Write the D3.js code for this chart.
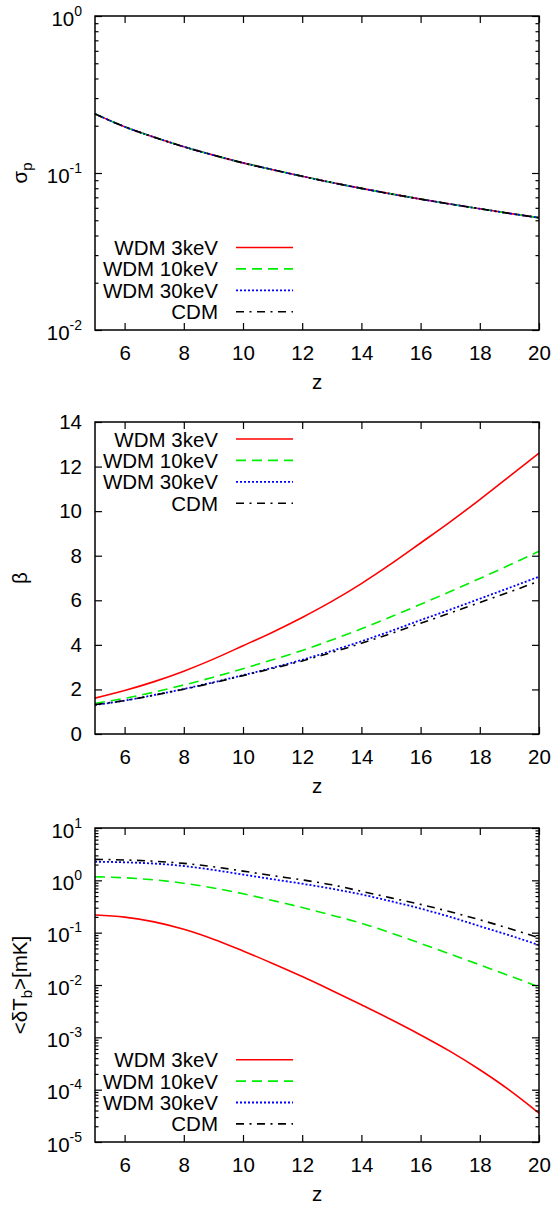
<!DOCTYPE html>
<html>
<head>
<meta charset="utf-8">
<script src="https://cdn.jsdelivr.net/npm/d3@7"></script>
<style>
  body { margin: 0; background: #fff; }
  svg text { font-family: "Liberation Sans", Arial, Helvetica, sans-serif; fill: #000; }
</style>
</head>
<body>
<svg id="chart" width="554" height="1207"></svg>
<script>
// Redshift grid shared by all panels
const redshift = [5, 6, 7, 8, 9, 10, 11, 12, 13, 14, 15, 16, 17, 18, 19, 20];

// Model names (legend order)
const models = ["WDM 3keV", "WDM 10keV", "WDM 30keV", "CDM"];

// Panel 1: sigma_p (identical for all models)
const sigmaP = [0.238, 0.197, 0.169, 0.147, 0.130, 0.116, 0.105, 0.0953, 0.0869, 0.0798, 0.0736, 0.0682, 0.0634, 0.0592, 0.0553, 0.0519];

// Panel 2: beta
const betaWDM3  = [1.61, 1.95, 2.35, 2.82, 3.36, 3.96, 4.57, 5.23, 5.95, 6.75, 7.63, 8.57, 9.52, 10.52, 11.56, 12.6];
const betaWDM10 = [1.38, 1.60, 1.88, 2.20, 2.55, 2.93, 3.33, 3.75, 4.22, 4.72, 5.26, 5.82, 6.39, 6.98, 7.58, 8.2];
const betaWDM30 = [1.30, 1.50, 1.75, 2.02, 2.32, 2.64, 2.97, 3.33, 3.73, 4.16, 4.62, 5.11, 5.58, 6.07, 6.56, 7.06];
const betaCDM   = [1.32, 1.50, 1.74, 2.01, 2.30, 2.62, 2.94, 3.28, 3.66, 4.07, 4.51, 4.97, 5.43, 5.90, 6.37, 6.86];

// Panel 3: <dT_b> in mK
const dTbWDM3  = [0.217, 0.198, 0.161, 0.116, 0.0752, 0.0448, 0.0258, 0.0145, 0.00787, 0.00418, 0.00219, 0.00111, 5.38e-4, 2.40e-4, 9.8e-5, 3.56e-5];
const dTbWDM10 = [1.17, 1.12, 1.02, 0.881, 0.716, 0.556, 0.412, 0.302, 0.216, 0.151, 0.0989, 0.0624, 0.0389, 0.0243, 0.0150, 0.0092];
const dTbWDM30 = [2.27, 2.21, 2.09, 1.88, 1.58, 1.29, 1.05, 0.861, 0.692, 0.537, 0.398, 0.288, 0.200, 0.133, 0.089, 0.058];
const dTbCDM   = [2.52, 2.45, 2.32, 2.11, 1.82, 1.50, 1.23, 1.02, 0.822, 0.617, 0.462, 0.347, 0.251, 0.176, 0.120, 0.080];

// Axis ticks
const zTicks = [6, 8, 10, 12, 14, 16, 18, 20];
const betaTicks = [0, 2, 4, 6, 8, 10, 12, 14];
const sigmaDecades = [1e-2, 1e-1, 1];
const dTbDecades = [1e-5, 1e-4, 1e-3, 1e-2, 1e-1, 1, 10];

// Line styles per model
const styles = [
  { color: "#ff0000", dash: null,          width: 1.6 },
  { color: "#00ee00", dash: "10,6",        width: 1.6 },
  { color: "#0000ff", dash: "2,2",         width: 1.8 },
  { color: "#000000", dash: "8,5.5,2,5.5", width: 1.6 }
];

const svg = d3.select("#chart");
const left = 95, right = 539;
const FS = 20.5;

function minorLogTicks(decades) {
  const out = [];
  for (let i = 0; i < decades.length - 1; i++)
    for (let m = 2; m <= 9; m++) out.push(decades[i] * m);
  return out;
}

function drawPanel(cfg) {
  const g = svg.append("g");
  const x = d3.scaleLinear().domain([5, 20]).range([left, right]);
  const y = cfg.log
    ? d3.scaleLog().domain(cfg.domain).range([cfg.bottom, cfg.top])
    : d3.scaleLinear().domain(cfg.domain).range([cfg.bottom, cfg.top]);

  // curves
  const line = d3.line()
    .x((d, i) => x(redshift[i]))
    .y(d => y(d))
    .curve(d3.curveMonotoneX);
  cfg.series.forEach((s, k) => {
    const st = styles[k];
    g.append("path")
      .attr("d", line(s))
      .attr("fill", "none")
      .attr("stroke", st.color)
      .attr("stroke-width", st.width)
      .attr("stroke-dasharray", st.dash);
  });

  // x axes (bottom labelled, top mirrored)
  g.append("g").attr("transform", `translate(0,${cfg.bottom})`)
    .call(d3.axisBottom(x).tickValues(zTicks).tickSizeInner(-7).tickSizeOuter(0).tickPadding(15).tickFormat(d3.format("d")));
  g.append("g").attr("transform", `translate(0,${cfg.top})`)
    .call(d3.axisTop(x).tickValues(zTicks).tickSizeInner(-7).tickSizeOuter(0).tickFormat(""));

  // y axes
  const yl = g.append("g").attr("transform", `translate(${left},0)`)
    .call(d3.axisLeft(y).tickValues(cfg.ticks).tickSizeInner(-7).tickSizeOuter(0).tickPadding(13)
      .tickFormat(cfg.log ? (() => "") : d3.format("d")));
  g.append("g").attr("transform", `translate(${right},0)`)
    .call(d3.axisRight(y).tickValues(cfg.ticks).tickSizeInner(-7).tickSizeOuter(0).tickFormat(""));

  if (cfg.log) {
    const minors = minorLogTicks(cfg.ticks);
    g.append("g").attr("transform", `translate(${left},0)`)
      .call(d3.axisLeft(y).tickValues(minors).tickSizeInner(-3.5).tickSizeOuter(0).tickFormat(""));
    g.append("g").attr("transform", `translate(${right},0)`)
      .call(d3.axisRight(y).tickValues(minors).tickSizeInner(-3.5).tickSizeOuter(0).tickFormat(""));
    // power-of-ten labels with superscript exponent
    yl.selectAll(".tick text").each(function (d) {
      const t = d3.select(this).text(null).attr("dy", 9);
      t.append("tspan").text("10");
      t.append("tspan").attr("dy", -10).attr("font-size", 14).text(String(Math.round(Math.log10(d))));
    });
  }

  g.selectAll(".domain").remove();
  g.selectAll(".tick line").attr("stroke", "#000").attr("stroke-width", 1.2);
  g.selectAll(".tick text").attr("font-size", FS).attr("fill", "#000")
    .style("font-family", '"Liberation Sans", Arial, Helvetica, sans-serif');

  // frame
  g.append("rect")
    .attr("x", left).attr("y", cfg.top)
    .attr("width", right - left).attr("height", cfg.bottom - cfg.top)
    .attr("fill", "none").attr("stroke", "#000").attr("stroke-width", 1.5);

  // x label
  g.append("text")
    .attr("x", (left + right) / 2).attr("y", cfg.bottom + 59)
    .attr("text-anchor", "middle").attr("font-size", FS).text("z");

  // y label
  const yc = (cfg.top + cfg.bottom) / 2;
  const yt = g.append("text")
    .attr("transform", `translate(27,${yc}) rotate(-90)`)
    .attr("text-anchor", "middle").attr("font-size", FS);
  cfg.ylabel(yt);

  // legend
  models.forEach((name, k) => {
    const ly = cfg.legendY + k * 21.4;
    const st = styles[k];
    g.append("text")
      .attr("x", 218).attr("y", ly).attr("dy", 7.5)
      .attr("text-anchor", "end").attr("font-size", FS).text(name);
    g.append("line")
      .attr("x1", 236).attr("x2", 293).attr("y1", ly).attr("y2", ly)
      .attr("stroke", st.color).attr("stroke-width", st.width)
      .attr("stroke-dasharray", st.dash);
  });
}

drawPanel({
  top: 16, bottom: 330, log: true, domain: [1e-2, 1], ticks: sigmaDecades,
  series: [sigmaP, sigmaP, sigmaP, sigmaP],
  legendY: 247.5,
  ylabel: t => {
    t.append("tspan").text("σ");
    t.append("tspan").attr("dy", 5).attr("font-size", 15).text("p");
  }
});

drawPanel({
  top: 422, bottom: 734, log: false, domain: [0, 14], ticks: betaTicks,
  series: [betaWDM3, betaWDM10, betaWDM30, betaCDM],
  legendY: 439,
  ylabel: t => t.text("β")
});

drawPanel({
  top: 828, bottom: 1142, log: true, domain: [1e-5, 10], ticks: dTbDecades,
  series: [dTbWDM3, dTbWDM10, dTbWDM30, dTbCDM],
  legendY: 1059.7,
  ylabel: t => {
    t.append("tspan").text("<δT");
    t.append("tspan").attr("dy", 5).attr("font-size", 15).text("b");
    t.append("tspan").attr("dy", -5).text(">[mK]");
  }
});
</script>
</body>
</html>
